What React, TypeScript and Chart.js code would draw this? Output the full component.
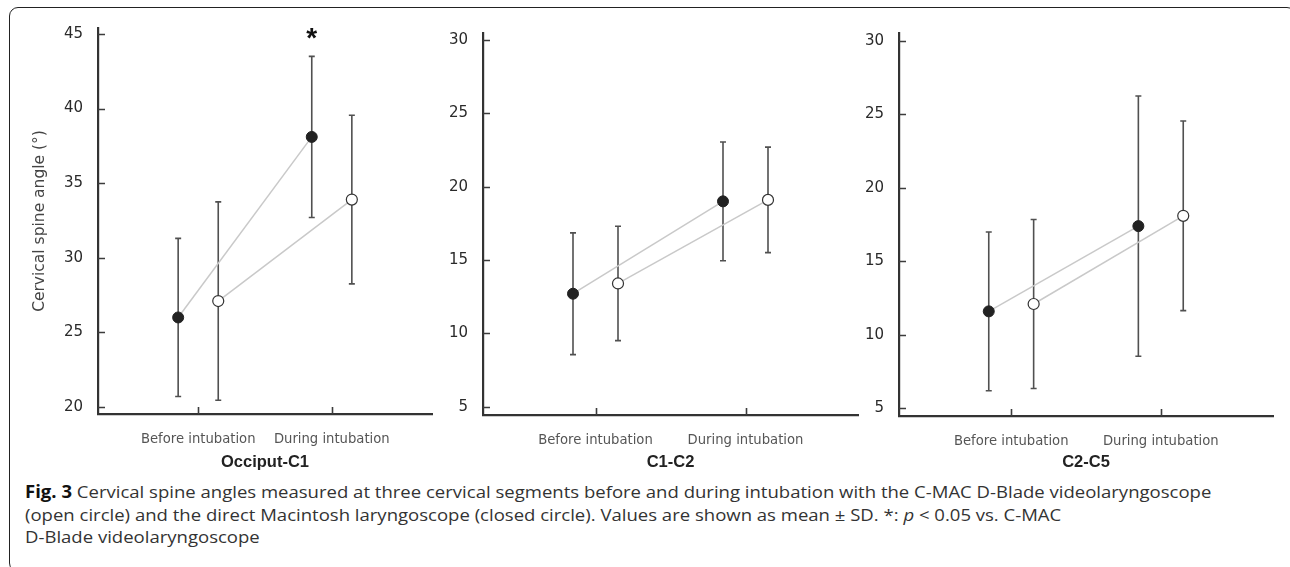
import React, { useEffect, useRef } from 'react';
import { Chart, registerables } from 'chart.js';

Chart.register(...registerables);

// ---------- data ----------
const categories = ['Before intubation', 'During intubation'];
const panelTitles = ['Occiput-C1', 'C1-C2', 'C2-C5'];
const yAxisTitle = 'Cervical spine angle (°)';

// Occiput-C1
const occMacintoshMean = [26.0, 38.1];
const occMacintoshSD = [5.3, 5.4];
const occCmacMean = [27.1, 33.9];
const occCmacSD = [6.65, 5.65];
const occTicks = [20, 25, 30, 35, 40, 45];
const occSignificant = [false, true];

// C1-C2
const c12MacintoshMean = [12.7, 19.0];
const c12MacintoshSD = [4.15, 4.05];
const c12CmacMean = [13.4, 19.1];
const c12CmacSD = [3.9, 3.6];
const c12Ticks = [5, 10, 15, 20, 25, 30];
const c12Significant = [false, false];

// C2-C5
const c25MacintoshMean = [11.6, 17.4];
const c25MacintoshSD = [5.4, 8.85];
const c25CmacMean = [12.1, 18.1];
const c25CmacSD = [5.75, 6.45];
const c25Ticks = [5, 10, 15, 20, 25, 30];
const c25Significant = [false, false];

const GROUP_OFFSET = 0.15;

type PanelProps = {
  title: string;
  macMean: number[];
  macSD: number[];
  cmacMean: number[];
  cmacSD: number[];
  ticks: number[];
  significant: boolean[];
  yMin: number;
  yMax: number;
  showYTitle: boolean;
  left: number;
  top: number;
  width: number;
  height: number;
  yWidth: number;
  xHeight: number;
  padTop: number;
  padRight: number;
};

const FONT = "'DejaVu Sans', sans-serif";
const TITLE_FONT = "'Liberation Sans', Arial, sans-serif";

function Panel(p: PanelProps) {
  const ref = useRef<HTMLCanvasElement | null>(null);
  useEffect(() => {
    if (!ref.current) return;
    const macData = p.macMean.map((m, i) => ({ x: i + 1 - GROUP_OFFSET, y: m, sd: p.macSD[i], sig: p.significant[i] }));
    const cmacData = p.cmacMean.map((m, i) => ({ x: i + 1 + GROUP_OFFSET, y: m, sd: p.cmacSD[i], sig: false }));

    const plugin = {
      id: 'errAndTicks',
      beforeDatasetsDraw(chart: any) {
        const { ctx, scales } = chart;
        const x = scales.x;
        const y = scales.y;
        ctx.save();
        ctx.strokeStyle = '#505050';
        ctx.lineWidth = 1.6;
        chart.data.datasets.forEach((ds: any) => {
          ds.data.forEach((d: any) => {
            const px = x.getPixelForValue(d.x);
            const t = y.getPixelForValue(d.y + d.sd);
            const b = y.getPixelForValue(d.y - d.sd);
            ctx.beginPath();
            ctx.moveTo(px, t);
            ctx.lineTo(px, b);
            ctx.moveTo(px - 3, t);
            ctx.lineTo(px + 3, t);
            ctx.moveTo(px - 3, b);
            ctx.lineTo(px + 3, b);
            ctx.stroke();
          });
        });
        ctx.restore();
      },
      afterDraw(chart: any) {
        const { ctx, scales, chartArea } = chart;
        const x = scales.x;
        const y = scales.y;
        ctx.save();
        ctx.strokeStyle = '#3c3c3c';
        ctx.lineWidth = 1.6;
        ctx.beginPath();
        y.ticks.forEach((t: any) => {
          const py = Math.round(y.getPixelForValue(t.value)) + 0.5;
          ctx.moveTo(chartArea.left, py);
          ctx.lineTo(chartArea.left + 7, py);
        });
        x.ticks.forEach((t: any) => {
          const px = Math.round(x.getPixelForValue(t.value)) + 0.5;
          ctx.moveTo(px, chartArea.bottom);
          ctx.lineTo(px, chartArea.bottom - 7);
        });
        ctx.stroke();
        // significance marks
        ctx.fillStyle = '#111';
        ctx.font = `bold 28px ${TITLE_FONT}`;
        ctx.textAlign = 'center';
        ctx.textBaseline = 'alphabetic';
        chart.data.datasets.forEach((ds: any) => {
          ds.data.forEach((d: any) => {
            if (!d.sig) return;
            const px = x.getPixelForValue(d.x);
            const py = y.getPixelForValue(d.y + d.sd);
            ctx.fillText('*', px, py - 9);
          });
        });
        ctx.restore();
      },
    };

    const chart = new Chart(ref.current, {
      type: 'scatter',
      data: {
        datasets: [
          {
            label: 'Macintosh',
            data: macData as any,
            showLine: true,
            borderColor: '#c9c9c9',
            borderWidth: 1.5,
            pointBackgroundColor: '#222',
            pointBorderColor: '#222',
            pointBorderWidth: 1,
            pointRadius: 5.5,
          },
          {
            label: 'C-MAC D-Blade',
            data: cmacData as any,
            showLine: true,
            borderColor: '#c9c9c9',
            borderWidth: 1.5,
            pointBackgroundColor: '#fff',
            pointBorderColor: '#333',
            pointBorderWidth: 1.2,
            pointRadius: 5.5,
          },
        ],
      },
      options: {
        animation: false,
        responsive: false,
        events: [],
        layout: { padding: { top: p.padTop, right: p.padRight, left: 0, bottom: 0 } },
        plugins: { legend: { display: false }, tooltip: { enabled: false } },
        scales: {
          x: {
            type: 'linear',
            min: 0.25,
            max: 2.75,
            grid: { display: false },
            border: { display: true, color: '#333', width: 2.2 },
            afterBuildTicks: (s: any) => {
              s.ticks = categories.map((_, i) => ({ value: i + 1 }));
            },
            afterFit: (s: any) => {
              s.height = p.xHeight;
            },
            ticks: {
              padding: 10,
              color: '#555',
              font: { family: FONT, size: 13.2 },
              callback: (v: any) => categories[Math.round(v) - 1] ?? '',
            },
            title: {
              display: true,
              text: p.title,
              color: '#222',
              font: { family: TITLE_FONT, size: 16.5, weight: 'bold' },
              padding: { bottom: 8, top: 0 },
            },
          },
          y: {
            type: 'linear',
            min: p.yMin,
            max: p.yMax,
            grid: { display: false },
            border: { display: true, color: '#333', width: 2.2 },
            afterBuildTicks: (s: any) => {
              s.ticks = p.ticks.map((v) => ({ value: v }));
            },
            afterFit: (s: any) => {
              s.width = p.yWidth;
            },
            ticks: {
              padding: 7,
              color: '#2a2a2a',
              font: { family: FONT, size: 15 },
            },
            title: {
              display: p.showYTitle,
              text: yAxisTitle,
              color: '#444',
              font: { family: FONT, size: 15.5 },
              padding: { top: 11, bottom: 0 },
            },
          },
        },
      },
      plugins: [plugin],
    });
    return () => chart.destroy();
  }, []);

  return (
    <canvas
      ref={ref}
      width={p.width}
      height={p.height}
      style={{ position: 'absolute', left: p.left, top: p.top, width: p.width, height: p.height }}
    />
  );
}

export default function App() {
  return (
    <div
      style={{
        position: 'absolute',
        left: 0,
        top: 0,
        width: 1290,
        height: 567,
        overflow: 'hidden',
        background: '#fff',
      }}
    >
      <div
        style={{
          position: 'absolute',
          left: 9,
          top: 7,
          width: 1287,
          height: 565,
          border: '1.6px solid #222',
          borderRadius: 9,
          boxSizing: 'border-box',
        }}
      />
      <Panel
        title={panelTitles[0]}
        macMean={occMacintoshMean}
        macSD={occMacintoshSD}
        cmacMean={occCmacMean}
        cmacSD={occCmacSD}
        ticks={occTicks}
        significant={occSignificant}
        yMin={19.53}
        yMax={45.4}
        showYTitle={true}
        left={20}
        top={10}
        width={420}
        height={470}
        yWidth={78}
        xHeight={66}
        padTop={18}
        padRight={8}
      />
      <Panel
        title={panelTitles[1]}
        macMean={c12MacintoshMean}
        macSD={c12MacintoshSD}
        cmacMean={c12CmacMean}
        cmacSD={c12CmacSD}
        ticks={c12Ticks}
        significant={c12Significant}
        yMin={4.43}
        yMax={30.48}
        showYTitle={false}
        left={440}
        top={10}
        width={428}
        height={470}
        yWidth={43}
        xHeight={65}
        padTop={23}
        padRight={10}
      />
      <Panel
        title={panelTitles[2]}
        macMean={c25MacintoshMean}
        macSD={c25MacintoshSD}
        cmacMean={c25CmacMean}
        cmacSD={c25CmacSD}
        ticks={c25Ticks}
        significant={c25Significant}
        yMin={4.48}
        yMax={30.54}
        showYTitle={false}
        left={850}
        top={10}
        width={438}
        height={470}
        yWidth={49}
        xHeight={64}
        padTop={23}
        padRight={15}
      />
      <div
        style={{
          position: 'absolute',
          left: 25,
          top: 481,
          fontFamily: "'Open Sans', sans-serif",
          fontSize: 17,
          lineHeight: '22.5px',
          color: '#333',
          whiteSpace: 'nowrap',
          transform: 'scaleX(1.09)',
          transformOrigin: '0 0',
        }}
      >
        <b style={{ color: '#111' }}>Fig. 3</b> Cervical spine angles measured at three cervical segments before and during
        intubation with the C-MAC D-Blade videolaryngoscope
        <br />
        (open circle) and the direct Macintosh laryngoscope (closed circle). Values are shown as mean ± SD. *: <i>p</i> &lt; 0.05 vs. C-MAC
        <br />
        D-Blade videolaryngoscope
      </div>
    </div>
  );
}
